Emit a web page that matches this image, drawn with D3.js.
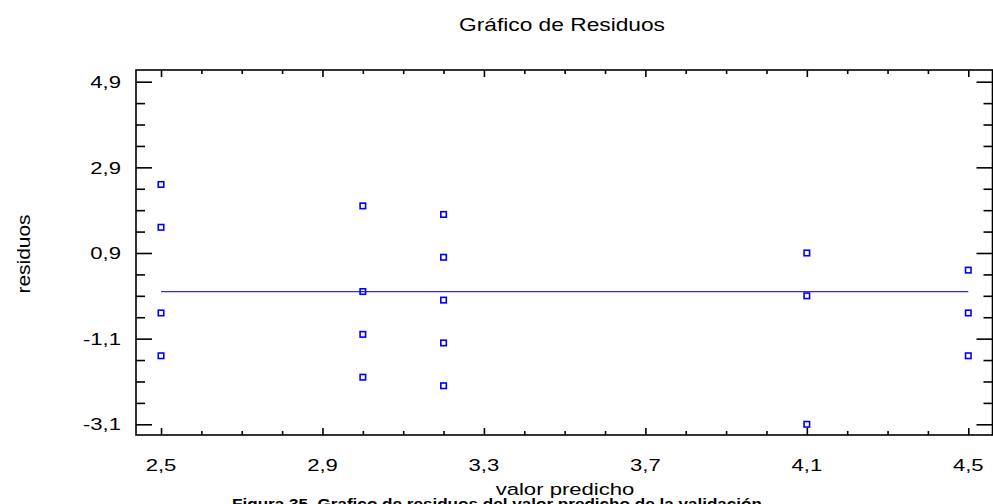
<!DOCTYPE html>
<html>
<head>
<meta charset="utf-8">
<script src="https://cdn.jsdelivr.net/npm/d3@7"></script>
<style>
  html, body { margin: 0; padding: 0; background: #fff; }
  svg { display: block; }
  text { font-family: "Liberation Sans", Arial, sans-serif; fill: #000; }
</style>
</head>
<body>
<svg id="chart" width="993" height="504"></svg>
<script>
// Residual plot: predicted value vs. residual
const predicted = [2.5, 2.5, 2.5, 2.5,
                   3.0, 3.0, 3.0, 3.0,
                   3.2, 3.2, 3.2, 3.2, 3.2,
                   4.1, 4.1, 4.1,
                   4.5, 4.5, 4.5];
const residuals = [2.5, 1.5, -0.5, -1.5,
                   2.0, 0.0, -1.0, -2.0,
                   1.8, 0.8, -0.2, -1.2, -2.2,
                   0.9, -0.1, -3.1,
                   0.5, -0.5, -1.5];
const xTicks = [2.5, 2.9, 3.3, 3.7, 4.1, 4.5];
const yTicks = [-3.1, -1.1, 0.9, 2.9, 4.9];
const zeroLine = [2.5, 4.5];

const title = "Gráfico de Residuos";
const xTitle = "valor predicho";
const yTitle = "residuos";
const caption = "Figura 35. Grafico de residuos del valor predicho de la validación";

const svg = d3.select("#chart");
const plot = { left: 136, right: 992.5, top: 70, bottom: 435 };
const stretch = 1.3; // type is set wide, as in the exported figure

const x = d3.scaleLinear().domain([2.438, 4.56]).range([plot.left, plot.right]);
const y = d3.scaleLinear().domain([-3.35, 5.173]).range([plot.bottom, plot.top]);

// decimal comma and plain hyphen for negatives
const fmt = v => d3.format(".1f")(v).replace(".", ",").replace("\u2212", "-");

// minor tick positions
const xMinor = d3.range(25, 46).map(i => i / 10).filter(v => !xTicks.some(t => Math.abs(t - v) < 1e-6));
const yMinor = d3.range(0, 17).map(i => -3.1 + i * 0.5).filter(v => !yTicks.some(t => Math.abs(t - v) < 1e-6));

function tickAxis(axisFn, scale, values, size, transform) {
  const g = svg.append("g")
    .attr("transform", transform)
    .call(axisFn(scale).tickValues(values).tickSize(size).tickFormat(""));
  g.select(".domain").remove();
  g.selectAll(".tick line").attr("stroke", "#000").attr("stroke-width", 1.6);
  return g;
}

// ticks point inward on all four sides
tickAxis(d3.axisLeft, y, yTicks, -16, `translate(${plot.left},0)`);
tickAxis(d3.axisLeft, y, yMinor, -9, `translate(${plot.left},0)`);
tickAxis(d3.axisRight, y, yTicks, -16, `translate(${plot.right},0)`);
tickAxis(d3.axisRight, y, yMinor, -9, `translate(${plot.right},0)`);
tickAxis(d3.axisBottom, x, xTicks, -7, `translate(0,${plot.bottom})`);
tickAxis(d3.axisBottom, x, xMinor, -4, `translate(0,${plot.bottom})`);
tickAxis(d3.axisTop, x, xTicks, -7, `translate(0,${plot.top})`);
tickAxis(d3.axisTop, x, xMinor, -4, `translate(0,${plot.top})`);

// frame
svg.append("rect")
  .attr("x", plot.left).attr("y", plot.top)
  .attr("width", plot.right - plot.left).attr("height", plot.bottom - plot.top)
  .attr("fill", "none").attr("stroke", "#000").attr("stroke-width", 1.6);

// helper for horizontally stretched text
function label(tx, ty, str, opts = {}) {
  const sx = opts.sx || stretch;
  const g = svg.append("g")
    .attr("transform", `translate(${tx},${ty})${opts.rotate ? ` rotate(${opts.rotate})` : ""} scale(${sx},1)`);
  const t = g.append("text")
    .attr("text-anchor", opts.anchor || "middle")
    .attr("font-size", opts.size || 17)
    .attr("font-weight", opts.weight || "normal")
    .text(str);
  if (opts.length) t.attr("textLength", opts.length / sx).attr("lengthAdjust", "spacingAndGlyphs");
  return t;
}

// tick labels
yTicks.forEach(v => label(121, y(v) + 6.2, fmt(v), { anchor: "end" }));
xTicks.forEach(v => label(x(v), 471, fmt(v)));

// titles
label(562, 31, title, { size: 17.5 });
label(565, 495, xTitle);
label(30, 254, yTitle, { rotate: -90, size: 19, sx: 1.1 });

// caption, partly below the visible area
label(232, 509, caption, { anchor: "start", size: 15, weight: "bold", length: 530 });

// zero reference line
svg.append("line")
  .attr("x1", x(zeroLine[0])).attr("x2", x(zeroLine[1]))
  .attr("y1", y(0)).attr("y2", y(0))
  .attr("stroke", "#2a2aff").attr("stroke-width", 1.3);

// residual points as hollow squares
const pts = predicted.map((p, i) => ({ p, r: residuals[i] }));
svg.append("g").selectAll("rect")
  .data(pts).join("rect")
  .attr("x", d => x(d.p) - 2.75)
  .attr("y", d => y(d.r) - 2.75)
  .attr("width", 5.5).attr("height", 5.5)
  .attr("fill", "none")
  .attr("stroke", "#0000ff")
  .attr("stroke-width", 1.6);
</script>
</body>
</html>
